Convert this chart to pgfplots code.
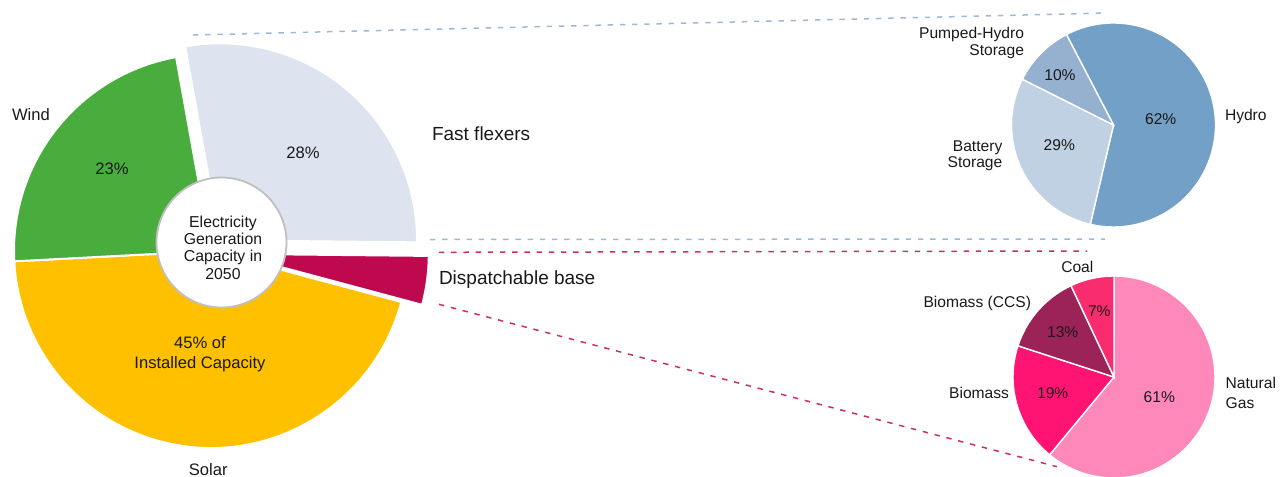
\documentclass[border=0pt]{standalone}
\usepackage{fontspec}
\setmainfont{Liberation Sans}
\usepackage{pgfplots}
\usepackage{pgfplotstable}
\pgfplotsset{compat=1.18}

\definecolor{fastc}{RGB}{221,228,239}
\definecolor{windc}{RGB}{72,173,60}
\definecolor{solarc}{RGB}{255,192,0}
\definecolor{dispc}{RGB}{191,9,78}
\definecolor{hydroc}{RGB}{115,160,198}
\definecolor{phsc}{RGB}{149,177,207}
\definecolor{battc}{RGB}{192,209,227}
\definecolor{gasc}{RGB}{255,136,187}
\definecolor{biomc}{RGB}{255,20,115}
\definecolor{ccsc}{RGB}{155,35,88}
\definecolor{coalc}{RGB}{248,44,110}
\definecolor{ringc}{RGB}{191,191,191}
\definecolor{bluedash}{RGB}{157,185,217}
\definecolor{pinkdash}{RGB}{205,45,105}
\definecolor{txt}{RGB}{25,25,25}

% share of each slice, clockwise from the start angle; explode in px
\pgfplotstableread{
value color explode
28 fastc 14
4 dispc 21
45 solarc 0
23 windc 0
}\mainpie
\pgfplotstableread{
value color explode
61.6 hydroc 0
28.9 battc 0
10.0 phsc 0
}\flexpie
\pgfplotstableread{
value color explode
61 gasc 0
19 biomc 0
13 ccsc 0
7 coalc 0
}\basepie

% #1 table, #2 cx, #3 cy (px), #4 radius (px), #5 start angle, #6 border width
\newcommand\drawpie[6]{%
  \pgfplotstablegetrowsof{#1}%
  \pgfmathtruncatemacro\nrows{\pgfplotsretval-1}%
  \def\pietotal{0}%
  \pgfplotsforeachungrouped \i in {0,...,\nrows}{%
    \pgfplotstablegetelem{\i}{value}\of{#1}%
    \pgfmathsetmacro\pietotal{\pietotal+\pgfplotsretval}%
  }%
  \def\piestart{#5}%
  \pgfplotsforeachungrouped \i in {0,...,\nrows}{%
    \pgfplotstablegetelem{\i}{value}\of{#1}\let\pv\pgfplotsretval
    \pgfplotstablegetelem{\i}{color}\of{#1}\let\pc\pgfplotsretval
    \pgfplotstablegetelem{\i}{explode}\of{#1}\let\pe\pgfplotsretval
    \pgfmathsetmacro\pieend{\piestart-360*(\pv/\pietotal)}%
    \pgfmathsetmacro\piemid{(\piestart+\pieend)/2}%
    \edef\temp{\noexpand\fill[fill=\pc, draw=white, line width=#6]
      ([shift={(\piemid:\pe*0.5pt)}]axis cs:#2,#3) -- ++(\piestart:#4*0.5pt)
      arc[start angle=\piestart, end angle=\pieend, radius=#4*0.5pt] -- cycle;}%
    \temp
    \let\piestart\pieend
  }%
}

\tikzset{
  lbl/.style={inner sep=0pt, outer sep=0pt, text=txt, font=\fontsize{7.8}{9}\selectfont},
  big/.style={lbl, font=\fontsize{9.5}{11}\selectfont},
  mid/.style={lbl, font=\fontsize{8.3}{9}\selectfont},
}

\begin{document}
\begin{tikzpicture}
\begin{axis}[
  scale only axis,
  width=640.5pt, height=238.5pt,
  xmin=0, xmax=1281, ymin=0, ymax=477,
  y dir=reverse,
  hide axis, clip=false,
]
  % connector lines
  \draw[bluedash, line width=0.75pt, dash pattern=on 2.7pt off 3.4pt] (axis cs:193,35) -- (axis cs:1107,13);
  \draw[bluedash, line width=0.75pt, dash pattern=on 2.7pt off 3.4pt] (axis cs:430,239.5) -- (axis cs:1105,239);
  \draw[pinkdash, line width=0.75pt, dash pattern=on 2.7pt off 3.4pt] (axis cs:439,252.3) -- (axis cs:1087,251);
  \draw[pinkdash, line width=0.75pt, dash pattern=on 2.7pt off 3.4pt] (axis cs:439,304.3) -- (axis cs:1057,466.7);

  \drawpie{\mainpie}{211}{251}{197}{100.2}{1pt}
  \drawpie{\flexpie}{1113.5}{125}{102}{117.5}{0.7pt}
  \drawpie{\basepie}{1114}{377}{101}{90}{0.7pt}

  % centre disc
  \draw[fill=white, draw=ringc, line width=0.9pt] (axis cs:221.5,242.5) circle[radius=32.5pt];
  \node[lbl, align=center, font=\fontsize{7.9}{8.65}\selectfont] at (axis cs:223,247.5)
    {Electricity\\Generation\\Capacity in\\2050};

  % main pie labels
  \node[mid] at (axis cs:303,153) {28\%};
  \node[mid] at (axis cs:112,168.3) {23\%};
  \node[mid, align=center, font=\fontsize{8.3}{10.2}\selectfont] at (axis cs:200,354) {45\% of\\Installed Capacity};
  \node[mid, anchor=west] at (axis cs:12,114.3) {Wind};
  \node[mid] at (axis cs:208.3,470) {Solar};
  \node[big, anchor=west] at (axis cs:432,134) {Fast flexers};
  \node[big, anchor=west] at (axis cs:439,280) {Dispatchable base};

  % fast flexers breakdown
  \node[lbl] at (axis cs:1160.7,119) {62\%};
  \node[lbl] at (axis cs:1059.3,145) {29\%};
  \node[lbl] at (axis cs:1060,75) {10\%};
  \node[lbl, anchor=west] at (axis cs:1225,116.7) {Hydro};
  \node[lbl, anchor=east, align=right, font=\fontsize{7.8}{8.35}\selectfont] at (axis cs:1024,43.3) {Pumped-Hydro\\Storage};
  \node[lbl, anchor=east, align=right, font=\fontsize{7.8}{8.2}\selectfont] at (axis cs:1002.3,156) {Battery\\Storage};

  % dispatchable base breakdown
  \node[lbl] at (axis cs:1159.3,397.3) {61\%};
  \node[lbl] at (axis cs:1052.7,392.7) {19\%};
  \node[lbl] at (axis cs:1062.7,331.7) {13\%};
  \node[lbl] at (axis cs:1099.3,310.7) {7\%};
  \node[lbl, anchor=west, align=left, font=\fontsize{7.8}{10}\selectfont] at (axis cs:1225.7,393.3) {Natural\\Gas};
  \node[lbl, anchor=east] at (axis cs:1031,303.3) {Biomass (CCS)};
  \node[lbl, anchor=east] at (axis cs:1009,393.3) {Biomass};
  \node[lbl] at (axis cs:1077.3,267.3) {Coal};
\end{axis}
\pgfresetboundingbox
\path (0,0) rectangle (640.5pt,238.5pt);
\end{tikzpicture}
\end{document}
